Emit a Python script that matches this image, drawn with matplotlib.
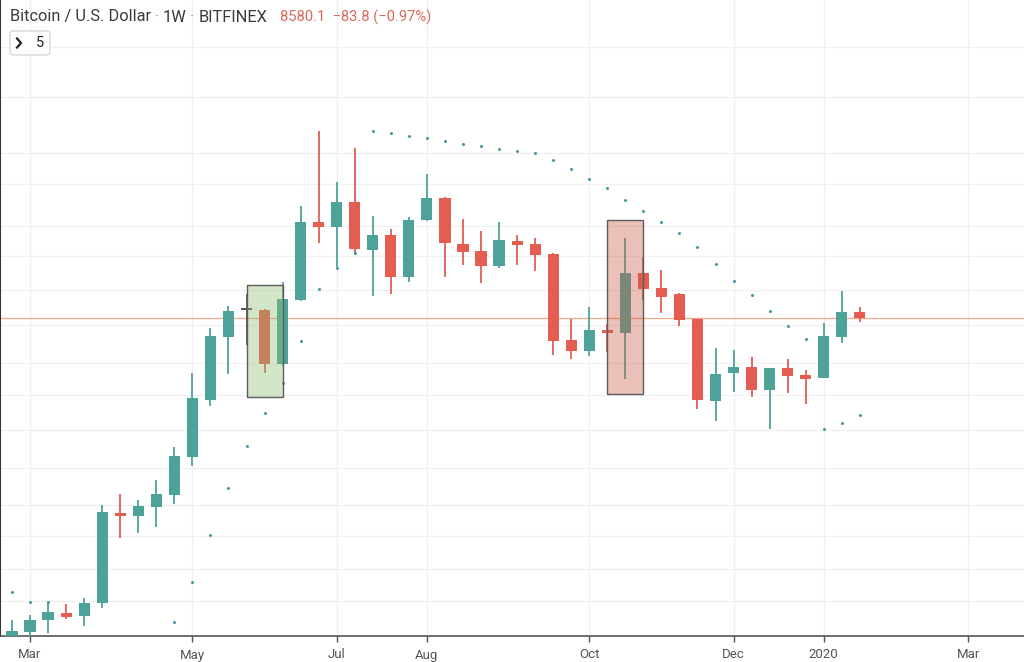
import numpy as np
import matplotlib.pyplot as plt
from matplotlib.patches import Rectangle, FancyBboxPatch
from matplotlib.lines import Line2D

# weekly OHLC, BTC/USD
opens = [2220, 2300, 2540, 2680, 2620, 2880, 4680, 4620, 4800, 5040,
         5800, 6940, 8200, 8740, 8740, 7660, 8940, 10500, 10400, 10900,
         9940, 10240, 9400, 10540, 10980, 10060, 9920, 9620, 10120, 10060,
         9860, 8140, 7920, 8340, 8280, 9480, 9180, 9060, 8560, 6920,
         7480, 7600, 7140, 7580, 7440, 7380, 8200, 8700]
highs = [2540, 2640, 2900, 2860, 2980, 4840, 5060, 4940, 5340, 6000,
         7480, 8380, 8820, 9060, 8760, 9300, 10820, 12320, 11300, 11980,
         10620, 10360, 10600, 11460, 11000, 10560, 10320, 10500, 10240, 10180,
         9880, 8560, 8800, 8460, 10180, 9800, 9540, 9080, 8560, 7980,
         7940, 7800, 7580, 7760, 7540, 8480, 9120, 8800]
lows = [2120, 2200, 2280, 2560, 2420, 2780, 4180, 4280, 4400, 4860,
        5620, 6820, 7460, 8040, 7480, 7620, 8920, 10080, 9600, 9880,
        9020, 9060, 9300, 10520, 9400, 9640, 9280, 9580, 9640, 9520,
        7840, 7760, 7820, 7900, 7360, 8940, 8680, 8420, 6760, 6520,
        7100, 7000, 6360, 7080, 6860, 7380, 8080, 8500]
closes = [2320, 2540, 2700, 2600, 2880, 4700, 4620, 4820, 5060, 5820,
          6980, 8220, 8720, 8740, 7660, 8960, 10500, 10400, 10900, 9960,
          10240, 9400, 10540, 10980, 10080, 9900, 9620, 10140, 10040, 9840,
          8120, 7920, 8340, 8280, 9480, 9160, 9000, 8540, 6940, 7460,
          7600, 7140, 7580, 7420, 7360, 8220, 8700, 8580.1]

# parabolic SAR dots (nan = not visible)
nan = np.nan
sar = [3100, 2900, 2900, nan, nan, nan, nan, nan, nan, 2500,
       3300, 4240, 5180, 6020, 6680, 7280, 8120, 9160, 9580, 9880,
       12320, 12280, 12220, 12180, 12120, 12060, 12020, 11960, 11920, 11880,
       11740, 11560, 11360, 11180, 10940, 10720, 10500, 10280, 10000, 9660,
       9320, 9040, 8720, 8420, 8160, 6360, 6480, 6640]

month_pos = [1, 10, 18, 23, 32, 40, 45, 53]
month_labels = ['Mar', 'May', 'Jul', 'Aug', 'Oct', 'Dec', '2020', 'Mar']
grid_levels = [14000, 13000, 11880, 11260, 10420, 9820, 9140, 8440, 7680,
               7040, 6340, 5580, 4840, 4220, 3560, 2920]

# highlight boxes: (first bar, last bar, low, high, colour)
boxes = [(13, 15, 7000, 9240, '#8fbf6f'),
         (33, 35, 7060, 10540, '#c85a46')]

last_price = 8580.1
change = -83.8
change_pct = -0.97

UP = '#4da399'
DOWN = '#e35d52'
DOJI = '#555555'

plt.rcParams['font.family'] = ['Roboto', 'DejaVu Sans']

fig = plt.figure(figsize=(10.24, 6.62), dpi=100)
ax = fig.add_axes([0, 26 / 662, 1, 636 / 662])

x = np.arange(len(opens))
o = np.array(opens, float)
c = np.array(closes, float)
h = np.array(highs, float)
l = np.array(lows, float)
cols = [DOJI if cc == oo else (UP if cc > oo else DOWN) for oo, cc in zip(o, c)]

ax.vlines(x, l, h, colors=cols, linewidth=1.3, zorder=3)
body_bottom = np.minimum(o, c)
body_h = np.maximum(np.abs(c - o), 40)
ax.bar(x, body_h, bottom=body_bottom, width=0.62, color=cols, zorder=4)

ax.scatter(x, sar, s=5, color='#4b9aa6', zorder=5, linewidths=0)

ax.axhline(last_price, color='#f2a58a', linewidth=0.9, zorder=2)

for x0, x1, y0, y1, fc in boxes:
    ax.add_patch(Rectangle((x0, y0), x1 - x0, y1 - y0, facecolor=fc,
                           alpha=0.38, edgecolor='none', zorder=6))
    ax.add_patch(Rectangle((x0, y0), x1 - x0, y1 - y0, facecolor='none',
                           edgecolor='#5c5c5c', linewidth=1.0, zorder=7))

ax.set_xlim(-0.665, 56.1)
ax.set_ylim(2220, 14940)

ax.set_yticks(grid_levels)
ax.set_yticklabels([])
ax.tick_params(axis='y', length=0)
ax.set_xticks(month_pos)
ax.set_xticklabels(month_labels, fontsize=9.5, color='#555555')
ax.tick_params(axis='x', length=4, width=1, color='#555555', pad=5)
ax.grid(True, color='#f0f0f0', linewidth=0.9, zorder=0)
ax.set_axisbelow(True)

for s in ['top', 'right']:
    ax.spines[s].set_visible(False)
ax.spines['bottom'].set_color('#555555')
ax.spines['bottom'].set_linewidth(1.2)
ax.spines['left'].set_color('#333333')
ax.spines['left'].set_linewidth(1.5)

# header text
ty = 1 - 17 / 662
fig.text(10 / 1024, ty, 'Bitcoin / U.S. Dollar', fontsize=11.8,
         color='#3a3a3a', va='center', ha='left')
fig.text(157 / 1024, ty, '\u00b7', fontsize=11.8, color='#999999',
         va='center', ha='center')
fig.text(163 / 1024, ty, '1W', fontsize=11.8, color='#3a3a3a',
         va='center', ha='left')
fig.text(192 / 1024, ty, '\u00b7', fontsize=11.8, color='#999999',
         va='center', ha='center')
fig.text(199 / 1024, ty, 'BITFINEX', fontsize=11.8, color='#3a3a3a',
         va='center', ha='left')
fig.text(280 / 1024, ty,
         f'{last_price}  \u2212{abs(change)} (\u2212{abs(change_pct)}%)',
         fontsize=10.6, color='#d9695c', va='center', ha='left')

btn = FancyBboxPatch((10 / 1024, 1 - 55 / 662), 40 / 1024, 24 / 662,
                     boxstyle='round,pad=0,rounding_size=0.004',
                     transform=fig.transFigure, facecolor='white',
                     edgecolor='#d8d8d8', linewidth=1.0, zorder=10)
fig.patches.append(btn)
fig.lines.append(Line2D([17 / 1024, 21 / 1024, 17 / 1024],
                        [1 - 38.5 / 662, 1 - 43 / 662, 1 - 47.5 / 662],
                        transform=fig.transFigure, color='#222222',
                        linewidth=1.6, zorder=11))
fig.text(36 / 1024, 1 - 43 / 662, '5', fontsize=10.5, color='#222222',
         va='center', ha='left', zorder=11)

fig.savefig('out.png', dpi=100)
